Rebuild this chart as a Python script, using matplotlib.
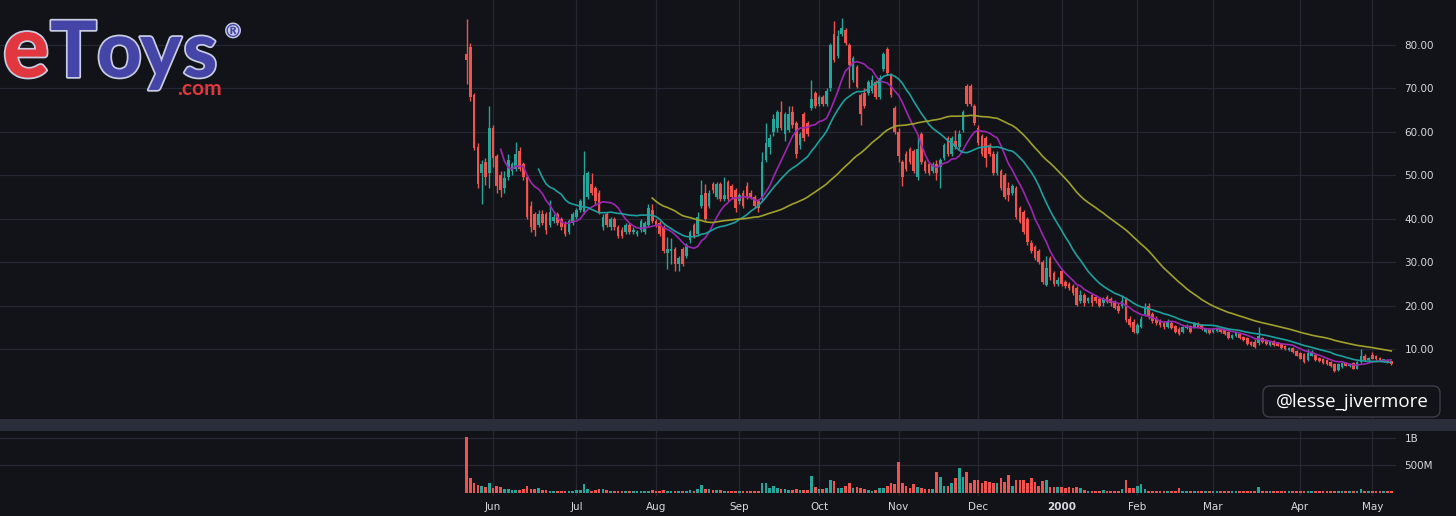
import matplotlib
matplotlib.use('Agg')
import matplotlib.pyplot as plt
import matplotlib.patheffects as pe
from matplotlib.patches import FancyBboxPatch, Rectangle
from matplotlib.transforms import IdentityTransform
import numpy as np
import pandas as pd

# ---------------- data (eToys daily, May 20 1999 - May 8 2000) ----------------
holidays = ['1999-05-31', '1999-07-05', '1999-09-06', '1999-11-25', '1999-12-24',
            '2000-01-17', '2000-02-21', '2000-04-21']

opens = [
    78, 79.5, 68.5, 56.5, 50.5, 53, 50.5,
    61, 54.5, 50, 47, 49.5, 51, 51.5, 55.5, 52.5, 49.5, 43, 41, 38.5, 41, 41, 38.5, 39.5, 41, 40, 39, 37, 39,
    40.5, 42, 41.5, 45, 48, 47, 46, 38, 41, 38, 40, 38, 37.5, 37, 38.5, 37, 36.5, 37.5, 37, 38.5, 42,
    39.5, 39, 38, 32, 32.5, 33, 29.5, 33, 31.5, 35, 38.5, 36.5, 43, 46, 43, 48, 45, 48, 44.5, 48.5, 47.5, 46.5,
    44, 46, 47.5, 46, 45, 44, 44.5, 53.5, 56.5, 60, 61, 64.5, 59.5, 60.5, 64.5, 62, 57, 64, 62, 65.5, 69,
    66.5, 68, 66.5, 70, 82.5, 77.5, 82.5, 83.5, 80, 72, 75, 68.5, 69, 69, 69.5, 71.5, 68, 74.5, 79, 73, 65.5,
    60, 53, 55, 56, 55.5, 49.5, 59.5, 53, 52.5, 51, 52.5, 52, 54, 58.5, 55, 58, 56.5, 60.5, 70.5, 70.5, 66,
    61, 59, 58.5, 57, 55, 50.5, 51, 50, 47, 46, 47, 42.5, 41.5, 40, 34.5, 33.5, 32.5, 30, 24.7, 31, 27.5, 25,
    28, 25.5, 25, 24.5, 24, 21, 22.5, 21, 22.5, 22, 21.5, 20.5, 22, 21.5, 20.8, 20, 20, 21.8, 17, 16.3,
    13.8, 15, 18, 20, 18, 17, 16.5, 16, 15, 16, 15.2, 14.5, 14, 14.8, 15.2, 15, 16, 15.5, 14, 14.5,
    14, 14.2, 14.5, 14.3, 14, 12.5, 13, 13.5, 12.8, 12.5, 11.5, 11.5, 11.3, 12.5, 12, 11, 11.8, 11.5, 11.2, 10.7, 9.8, 10.2, 9.6,
    9, 8.8, 7.4, 8.5, 8.6, 8, 7.8, 7.4, 7, 6.5, 5.2, 5.8, 6.8, 6, 6.8, 5.5, 7, 8.5, 7.5,
    8.7, 8.5, 8, 7.3, 7.5, 7.2,
]
highs = [
    86, 80.5, 69, 57.5, 53.5, 54, 66,
    61.5, 55, 51, 51, 55, 53, 57.7, 56.5, 53, 50, 44, 41.5, 42, 42, 41.5, 44.3, 41, 41.5, 40.5, 39.5, 40, 41.5,
    42.5, 44.5, 55.5, 51, 50.5, 47.5, 46.5, 41, 41.5, 40.5, 40.5, 38.5, 38, 39, 39, 38, 37.5, 40, 39.5, 43.5, 43.5,
    40, 39.5, 38.5, 35.8, 35.5, 33.5, 31.5, 33.5, 34.5, 37.5, 39, 41.5, 49, 48, 46.5, 48.5, 48.5, 48.5, 49.5, 49, 48, 47,
    46, 46.5, 48.5, 46.5, 45.5, 44.5, 55.4, 62, 59.5, 64, 65, 67, 64.5, 66, 66, 62.5, 60, 64.5, 62.5, 72, 69.5,
    68.5, 68.5, 70, 80.5, 85.5, 83.5, 86.3, 84, 80.5, 77.5, 75.5, 69, 70, 72, 73, 72, 73, 78.5, 79.5, 73.5, 66,
    61, 53.5, 55.5, 56.5, 56, 59, 60, 53.5, 53, 53, 53.5, 54, 57.5, 59, 59, 60.5, 60.5, 65, 71, 71, 66.5,
    61.5, 59.5, 59, 57.5, 55.5, 55.5, 51.5, 50.5, 48.5, 48, 47.5, 43, 42, 40.5, 35, 34, 33, 30.5, 31.5, 31.5, 28, 26.5,
    28.5, 26, 25.5, 25, 24.5, 23.5, 23, 22, 23, 22.5, 22, 22, 22.5, 22, 21.2, 20.5, 22.5, 22, 17.5, 16.8,
    16, 17.5, 20.5, 20.5, 18.5, 17.5, 17, 16.5, 17, 16.5, 15.5, 15, 15.3, 15.8, 15.5, 16.3, 16.3, 15.8, 14.8, 14.8,
    14.8, 15, 14.8, 14.5, 14.2, 13.4, 13.8, 13.7, 13, 12.7, 11.8, 12.2, 15, 12.8, 12.3, 11.8, 12, 11.7, 11.4, 11, 10.5, 10.4, 9.8,
    9.2, 9, 10, 9.8, 8.8, 8.2, 8, 7.6, 7.2, 6.7, 6.8, 7, 7, 6.8, 7, 7.2, 10, 8.8, 8.2,
    9.3, 8.7, 8.2, 7.8, 7.6, 7.3,
]
lows = [
    71, 67, 55.8, 47, 43.5, 47.8, 47,
    52, 46, 45, 46, 49, 50, 51, 51, 49, 40, 37, 36, 38, 38.5, 36.5, 38, 39, 38.5, 37.5, 36, 36.5, 38.5,
    40, 41.5, 41, 44.5, 45.5, 43.5, 41, 37.5, 38, 37.5, 37.5, 35.5, 35.5, 36.5, 36.5, 36.5, 36, 37, 36.5, 38, 39,
    38, 36, 32, 28.5, 29.5, 28, 28, 29, 31, 34.5, 35.5, 36, 42.5, 39.5, 42.5, 46, 44.5, 44, 44, 44, 44.5, 41.5,
    43.5, 42.5, 44.5, 44.5, 42.5, 41.5, 44, 53, 55, 59, 60, 60.5, 58, 60, 61, 54, 56, 58, 59, 65, 65.5,
    66, 66, 66, 69.5, 76, 77, 82, 80, 70, 71.5, 70, 61.5, 65.5, 68.5, 69, 67.5, 67.5, 74, 73, 68, 59.5,
    53, 47.5, 51, 52.5, 50.5, 49, 52.5, 50.5, 50, 50.5, 49, 47, 53.5, 54.5, 54.5, 56, 56, 60, 66, 66, 61.5,
    57, 54.5, 52, 54.5, 50, 50, 46.5, 44.5, 44, 45.5, 40, 39, 36.5, 34, 32, 30.5, 29.5, 25, 24.5, 26, 24.5, 24.5,
    24.5, 24, 23.5, 22.5, 20, 20.5, 20, 20.5, 20, 20.5, 19.7, 20, 20.5, 20, 19.2, 18.2, 19.5, 16.2, 15, 13.6,
    13.5, 14.8, 17.5, 17, 16, 15.5, 15, 14.5, 14.8, 14.5, 13.8, 13.2, 13.8, 14.5, 13.8, 14.8, 14.8, 14.3, 13.8, 13.5,
    13.8, 14, 13.8, 13.3, 12.3, 12.3, 12.8, 12.3, 11.8, 11, 10.8, 10.3, 11, 11.3, 11, 10.8, 10.8, 10.6, 10.1, 9.8, 9.6, 9.1, 8.3,
    7.6, 6.8, 7.2, 8.3, 7.3, 7.1, 6.6, 6.3, 5.8, 4.6, 5, 5.6, 6, 5.8, 5.3, 5.3, 6.8, 7.3, 7.3,
    7.6, 7.4, 7.3, 7.1, 6.8, 6.4,
]
closes = [
    76.5, 68, 56.3, 48, 52.5, 49.6, 61,
    54, 47.5, 46.5, 49.3, 53.5, 52.5, 55, 51.5, 49.5, 40.5, 38, 37.5, 41, 39, 37.5, 41.5, 40.5, 39, 38, 36.5, 39.5, 41,
    42, 44, 50, 50.5, 46, 44, 41.5, 40.5, 38.5, 40, 38, 36, 36, 38.5, 37, 37.5, 37, 39.5, 39, 42.5, 39.5,
    38.5, 36.5, 32.5, 33, 33, 29.5, 31, 29.5, 34, 37, 36, 40.5, 45.5, 40, 46, 46.5, 48, 44.5, 45.5, 44.5, 45, 42.5,
    45.5, 43, 45, 45, 43, 42.5, 53, 57.5, 58.5, 63, 64.5, 61, 64, 64, 61.5, 55, 59.5, 58.5, 59.5, 67.5, 66,
    68, 66.5, 69.5, 80, 76.5, 82, 84, 80.5, 75.5, 77, 70.3, 64, 66, 71.5, 72, 68, 72.5, 78, 73.5, 68.5, 60,
    54.5, 49.5, 51.5, 53, 51, 56, 53, 51, 50.5, 52.5, 50.5, 53.5, 57, 55, 58.5, 56.5, 59.5, 64.5, 66.5, 66.5, 62,
    57.5, 55, 54, 55, 50.5, 55, 47, 45, 45.5, 47.5, 40.3, 39.2, 37, 34.6, 32.5, 31, 30, 25.5, 28.7, 26.5, 25, 26,
    25, 24.5, 24, 23, 20.2, 22.5, 20.5, 21.8, 20.5, 21, 20, 21.5, 20.8, 20.5, 19.5, 18.7, 21, 16.7, 15.5, 14,
    15.5, 17, 19.5, 17.5, 16.5, 16, 15.5, 15, 16.5, 14.8, 14, 13.5, 15, 15.3, 14, 16, 15, 14.6, 14.5, 13.8,
    14.5, 14.6, 14, 13.5, 12.5, 13.2, 13.6, 12.5, 12, 11.2, 11, 10.5, 13, 11.5, 11.2, 11.6, 11, 10.8, 10.3, 10, 10.2, 9.3, 8.5,
    7.8, 7, 9, 9.2, 7.5, 7.3, 6.8, 6.5, 6, 5, 6.5, 6.8, 6.2, 6.6, 5.5, 7, 8.5, 7.5, 8,
    7.8, 7.6, 7.5, 7.6, 7, 6.6,
]
volumes_m = [
    1020, 262, 170, 140, 128, 110, 170,
    92, 128, 110, 67, 60, 55, 50, 55, 60, 128, 75, 70, 80, 55, 55, 40, 35, 30, 30, 30, 35, 40,
    45, 55, 160, 70, 40, 45, 60, 60, 50, 35, 30, 30, 30, 35, 30, 35, 40, 40, 30, 40, 50,
    40, 35, 45, 40, 35, 40, 35, 35, 40, 45, 40, 60, 140, 70, 60, 50, 45, 55, 40, 40, 35, 40,
    35, 40, 40, 30, 35, 40, 170, 170, 90, 120, 90, 70, 60, 55, 50, 60, 55, 50, 45, 305, 100,
    70, 60, 90, 230, 210, 90, 90, 120, 170, 90, 100, 80, 60, 50, 40, 50, 80, 90, 130, 180, 150,
    555, 170, 120, 90, 160, 100, 90, 70, 60, 70, 384, 293, 120, 130, 170, 262, 445, 293, 372, 170, 232,
    232, 170, 213, 200, 170, 180, 262, 190, 323, 120, 230, 230, 230, 170, 262, 200, 120, 210, 230, 110, 110, 110,
    110, 90, 100, 80, 110, 80, 50, 40, 35, 35, 35, 45, 35, 35, 40, 40, 60, 232, 90, 90,
    130, 150, 60, 40, 35, 30, 30, 30, 40, 30, 30, 80, 40, 30, 30, 35, 30, 30, 30, 30,
    30, 30, 40, 30, 30, 25, 25, 25, 25, 25, 25, 30, 110, 35, 30, 25, 25, 25, 30, 25, 25, 30, 30,
    35, 30, 40, 30, 25, 25, 25, 30, 30, 35, 30, 25, 25, 25, 25, 30, 60, 30, 25,
    30, 25, 25, 25, 25, 25,
]
price_ticks = [10, 20, 30, 40, 50, 60, 70, 80]
volume_ticks = [500e6, 1e9]
volume_tick_labels = ['500M', '1B']
ma_periods = [10, 20, 50]

# ---------------- style ----------------
BG = '#121318'
GRID = '#252732'
TXT = '#d6d9e0'
UP = '#26a69a'
DOWN = '#ef5350'
MA_COLORS = ['#9c27b0', '#1e9fa0', '#a0a02c']
W, H = 1456, 516

n = len(closes)
o = np.array(opens[:n], float)
h = np.array(highs[:n], float)
l = np.array(lows[:n], float)
c = np.array(closes[:n], float)
v = np.array(volumes_m[:n], float) * 1e6
x = np.arange(n)

dates = pd.bdate_range('1999-05-20', periods=n, freq='C', holidays=holidays)
month_idx = [i for i in range(n) if i > 0 and dates[i].month != dates[i - 1].month]
month_lab = []
for i in month_idx:
    month_lab.append(str(dates[i].year) if dates[i].month == 1 else dates[i].strftime('%b'))

fig = plt.figure(figsize=(W / 100, H / 100), dpi=100, facecolor=BG)

def fx(px):
    return px / W

def fy(py):
    return 1 - py / H

ax = fig.add_axes([0, fy(419), fx(1396), 419 / H])
axv = fig.add_axes([0, fy(496), fx(1396), (496 - 431) / H])

px_per_bar = 3.79
x0_px = 466.5
xlim = (-x0_px / px_per_bar, (1396 - x0_px) / px_per_bar)

for a in (ax, axv):
    a.set_facecolor(BG)
    for s in a.spines.values():
        s.set_visible(False)
    a.set_xlim(*xlim)
    a.set_xticks(month_idx)
    a.grid(True, color=GRID, linewidth=0.9)
    a.set_axisbelow(True)
    a.yaxis.tick_right()
    a.tick_params(axis='y', length=0, pad=6, labelsize=7.5, labelcolor=TXT)

ax.tick_params(axis='x', length=0, labelbottom=False)
ax.set_ylim(80 - (419 - 45) / 4.343, 80 + 45 / 4.343)
ax.set_yticks(price_ticks)
ax.set_yticklabels([f'{t:.2f}' for t in price_ticks])

colors = np.where(c >= o, UP, DOWN)
ax.vlines(x, l, h, colors=colors, linewidth=1.0, zorder=2)
ax.bar(x, np.maximum(np.abs(c - o), 0.25), bottom=np.minimum(o, c), width=0.7,
       color=colors, linewidth=0, zorder=3)

cs = pd.Series(c)
for p, col in zip(ma_periods, MA_COLORS):
    ax.plot(x, cs.rolling(p).mean(), color=col, linewidth=1.2, zorder=4)

# volume pane
axv.bar(x, v, width=0.7, color=colors, linewidth=0, zorder=3)
axv.set_ylim(-(496 - 492.7) / 54.7 * 1e9, (492.7 - 431) / 54.7 * 1e9)
axv.set_yticks(volume_ticks)
axv.set_yticklabels(volume_tick_labels)
axv.set_xticklabels(month_lab)
axv.tick_params(axis='x', length=0, pad=4, labelsize=7.5, labelcolor=TXT)
for lab in axv.get_xticklabels():
    if lab.get_text() == '2000':
        lab.set_fontweight('bold')

# pane separator
fig.add_artist(Rectangle((0, H - 431), W, 12, transform=IdentityTransform(),
                         facecolor='#2a2e3b', edgecolor='none', zorder=1))

# watermark box
fig.add_artist(FancyBboxPatch((1263, H - 417), 177, 31, boxstyle='round,pad=0,rounding_size=7',
                              transform=IdentityTransform(), facecolor=BG,
                              edgecolor='#3a3e4a', linewidth=1, zorder=5))
fig.text(fx(1352), fy(402), '@lesse_jivermore', ha='center', va='center',
         fontsize=13.5, color='white', family='Open Sans', zorder=6)

# logo
outline = [pe.withStroke(linewidth=2.5, foreground='#c9cde3')]
logo_font = dict(fontweight='black', family='Lato', va='baseline', ha='left',
                 path_effects=outline)
fig.text(fx(3), fy(77), 'e', fontsize=62, color='#e0383e', zorder=8, **logo_font)
fig.text(fx(50), fy(77), 'To', fontsize=56, color='#4545a8', zorder=7, **logo_font)
fig.text(fx(140), fy(77), 'y', fontsize=56, color='#4545a8', zorder=7, **logo_font)
fig.text(fx(183), fy(77), 's', fontsize=56, color='#4545a8', zorder=7, **logo_font)
fig.text(fx(177), fy(95), '.com', fontsize=15, fontweight='bold', family='Lato',
         color='#e0383e', va='baseline', ha='left', zorder=7)
fig.text(fx(233), fy(32), '®', fontsize=13, fontweight='bold', family='DejaVu Sans',
         color='#4545a8', va='center', ha='center',
         path_effects=[pe.withStroke(linewidth=2, foreground='#c9cde3')], zorder=7)

fig.savefig('out.png', dpi=100, facecolor=BG)
